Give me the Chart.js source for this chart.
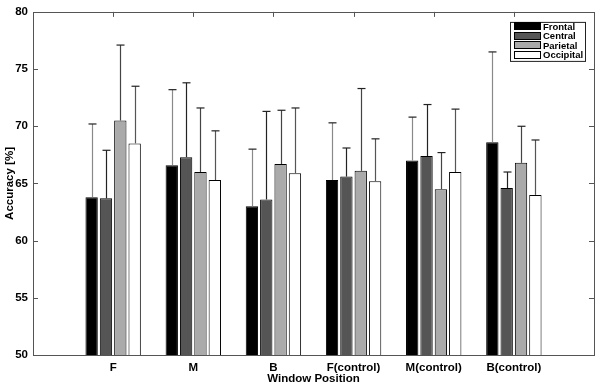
<!DOCTYPE html>
<html>
<head>
<meta charset="utf-8">
<script src="https://cdn.jsdelivr.net/npm/chart.js@4/dist/chart.umd.min.js"></script>
<style>
  html, body { margin: 0; padding: 0; background: #fff; }
  #wrap { width: 600px; height: 386px; }
</style>
</head>
<body>
<div id="wrap"><canvas id="chart"></canvas></div>
<script>
// blank slots at both ends keep the groups away from the frame
const categories = ['', 'F', 'M', 'B', 'F(control)', 'M(control)', 'B(control)', '']
const regions = ['Frontal', 'Central', 'Parietal', 'Occipital']

const frontal = [null, 63.8, 66.6, 63.0, 65.3, 67.0, 68.6, null]
const central = [null, 63.7, 67.3, 63.6, 65.6, 67.4, 64.6, null]
const parietal = [null, 70.5, 66.0, 66.7, 66.1, 64.5, 66.8, null]
const occipital = [null, 68.5, 65.3, 65.9, 65.2, 66.0, 64.0, null]

// upper error (std) per bar
const frontalErr = [null, 6.4, 6.6, 5.0, 5.0, 3.8, 7.9, null]
const centralErr = [null, 4.2, 6.5, 7.7, 2.5, 4.5, 1.4, null]
const parietalErr = [null, 6.6, 5.6, 4.7, 7.2, 3.2, 3.2, null]
const occipitalErr = [null, 5.0, 4.3, 5.7, 3.7, 5.5, 4.8, null]

const yTicks = [50, 55, 60, 65, 70, 75, 80]

const fills = ['#000000', '#555555', '#aaaaaa', '#ffffff']
const errColors = ['#8a8a8a', '#222222', '#444444', '#555555']
const FONT = '"Liberation Sans", Arial, sans-serif'

const values = [frontal, central, parietal, occipital]
const errors = [frontalErr, centralErr, parietalErr, occipitalErr]

const datasets = regions.map((name, i) => ({
  label: name,
  data: values[i],
  errUp: errors[i],
  backgroundColor: fills[i],
  borderColor: '#000',
  borderWidth: 1,
  categoryPercentage: 0.716,
  barPercentage: 0.86
}))

// upper error bars with caps
const errorBars = {
  id: 'errorBars',
  afterDatasetsDraw(chart) {
    const ctx = chart.ctx
    const y = chart.scales.y
    ctx.save()
    chart.data.datasets.forEach((ds, i) => {
      const meta = chart.getDatasetMeta(i)
      meta.data.forEach((bar, j) => {
        if (ds.data[j] == null) return
        const top = y.getPixelForValue(ds.data[j] + ds.errUp[j])
        const x = Math.round(bar.x) + 0.5
        ctx.strokeStyle = errColors[i]
        ctx.lineWidth = 1.2
        ctx.beginPath()
        ctx.moveTo(x, bar.y)
        ctx.lineTo(x, top)
        ctx.stroke()
        ctx.strokeStyle = '#222'
        ctx.beginPath()
        ctx.moveTo(x - 4, top)
        ctx.lineTo(x + 4, top)
        ctx.stroke()
      })
    })
    ctx.restore()
  }
}

// box around the plot with inward ticks on all four sides
const frame = {
  id: 'frame',
  afterDatasetsDraw(chart) {
    const ctx = chart.ctx
    const a = chart.chartArea
    const x = chart.scales.x
    const y = chart.scales.y
    ctx.save()
    ctx.strokeStyle = '#555'
    ctx.lineWidth = 1
    ctx.strokeRect(Math.round(a.left) + 0.5, Math.round(a.top) + 0.5,
      Math.round(a.right - a.left), Math.round(a.bottom - a.top))
    ctx.beginPath()
    yTicks.forEach(v => {
      const py = Math.round(y.getPixelForValue(v)) + 0.5
      ctx.moveTo(a.left, py); ctx.lineTo(a.left + 5, py)
      ctx.moveTo(a.right, py); ctx.lineTo(a.right - 5, py)
    })
    for (let i = 1; i < categories.length - 1; i++) {
      const px = Math.round(x.getPixelForValue(i)) + 0.5
      ctx.moveTo(px, a.top); ctx.lineTo(px, a.top + 5)
    }
    ctx.stroke()
    ctx.restore()
  }
}

// boxed legend in the top right corner
const boxLegend = {
  id: 'boxLegend',
  afterDraw(chart) {
    const ctx = chart.ctx
    const a = chart.chartArea
    const w = 75, h = 39
    const left = a.right - 9 - w
    const top = a.top + 10
    ctx.save()
    ctx.fillStyle = '#fff'
    ctx.fillRect(left, top, w, h)
    ctx.strokeStyle = '#222'
    ctx.lineWidth = 1
    ctx.strokeRect(left + 0.5, top + 0.5, w, h)
    ctx.font = 'bold 9.5px ' + FONT
    ctx.textBaseline = 'middle'
    chart.data.datasets.forEach((ds, i) => {
      const cy = top + 4.5 + i * 9.5
      ctx.fillStyle = ds.backgroundColor
      ctx.fillRect(left + 4.5, Math.round(cy) - 3.5, 26, 7)
      ctx.strokeStyle = '#000'
      ctx.strokeRect(left + 4.5, Math.round(cy) - 3.5, 26, 7)
      ctx.fillStyle = '#000'
      ctx.fillText(ds.label, left + 33, cy + 0.5)
    })
    ctx.restore()
  }
}

new Chart(document.getElementById('chart'), {
  type: 'bar',
  data: { labels: categories, datasets: datasets },
  options: {
    responsive: true,
    maintainAspectRatio: false,
    animation: false,
    layout: { padding: { top: 7, right: 4, left: 0, bottom: 0 } },
    plugins: { legend: { display: false }, tooltip: { enabled: false } },
    scales: {
      x: {
        offset: false,
        grid: { display: false, drawTicks: false },
        border: { display: false },
        ticks: { color: '#000', font: { family: FONT, size: 11.5, weight: 'bold' }, padding: 6, maxRotation: 0, autoSkip: false },
        title: { display: true, text: 'Window Position', color: '#000', font: { family: FONT, size: 11.5, weight: 'bold' }, padding: { top: 0, bottom: 0 } },
        afterFit(scale) { scale.height = 31 }
      },
      y: {
        min: 50,
        max: 80,
        grid: { display: false, drawTicks: false },
        border: { display: false },
        ticks: { stepSize: 5, color: '#000', font: { family: FONT, size: 11.5, weight: 'bold' }, padding: 5 },
        title: { display: true, text: 'Accuracy [%]', color: '#000', font: { family: FONT, size: 11.5, weight: 'bold' }, padding: { top: 3, bottom: 0 } },
        afterFit(scale) { scale.width = 33 }
      }
    }
  },
  plugins: [errorBars, frame, boxLegend]
})
</script>
</body>
</html>
